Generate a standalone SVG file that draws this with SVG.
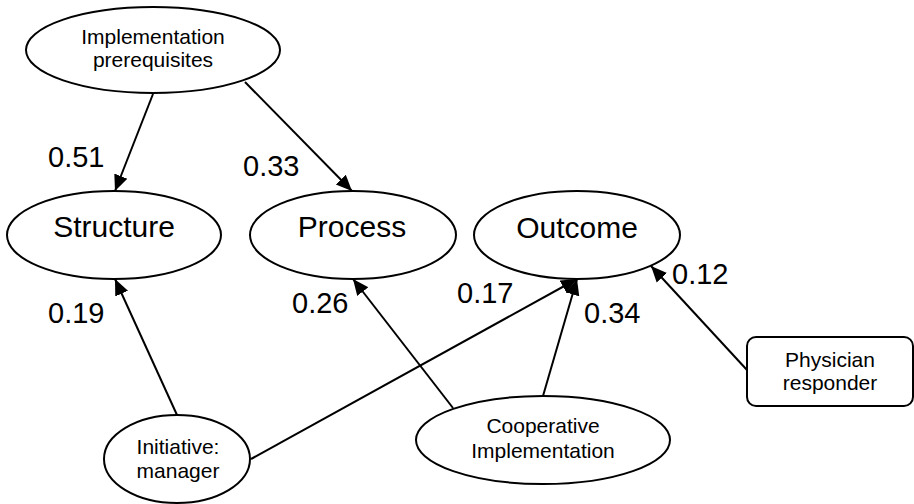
<svg xmlns="http://www.w3.org/2000/svg" width="914" height="504" viewBox="0 0 914 504">
<style>
.n{fill:#fff;stroke:#000;stroke-width:2}
.c{fill:none;stroke:#000;stroke-width:2}
text{font-family:"Liberation Sans",Arial,sans-serif;fill:#000}
.s{font-size:21px;text-anchor:middle}
.b{font-size:30px;text-anchor:middle}
.v{font-size:29px}
</style>
<defs>
<marker id="ah" markerUnits="userSpaceOnUse" markerWidth="18" markerHeight="16" refX="16" refY="7" orient="auto" viewBox="0 0 18 14">
<path d="M0,0 L16,7 L0,14 z" fill="#000"/>
</marker>
</defs>
<rect width="914" height="504" fill="#fff"/>
<g id="connectors">
<line class="c" x1="153" y1="94" x2="115" y2="191" marker-end="url(#ah)"/>
<line class="c" x1="245" y1="82" x2="352" y2="191" marker-end="url(#ah)"/>
<line class="c" x1="177" y1="415" x2="115" y2="279" marker-end="url(#ah)"/>
<line class="c" x1="453" y1="408" x2="353" y2="279" marker-end="url(#ah)"/>
<line class="c" x1="251" y1="459" x2="577" y2="279" marker-end="url(#ah)"/>
<line class="c" x1="543" y1="396" x2="577" y2="279" marker-end="url(#ah)"/>
<line class="c" x1="747" y1="370" x2="651" y2="266" marker-end="url(#ah)"/>
</g>
<g id="prereq">
<ellipse class="n" cx="153" cy="50" rx="127" ry="43"/>
<text class="s" x="153" y="44">Implementation</text>
<text class="s" x="153" y="67">prerequisites</text>
</g>
<g id="structure">
<ellipse class="n" cx="114" cy="235" rx="107" ry="44"/>
<text class="b" x="114" y="237">Structure</text>
</g>
<g id="process">
<ellipse class="n" cx="353" cy="235" rx="103" ry="44"/>
<text class="b" x="352" y="237">Process</text>
</g>
<g id="outcome">
<ellipse class="n" cx="577" cy="235" rx="103" ry="44"/>
<text class="b" x="577" y="238">Outcome</text>
</g>
<g id="initiative">
<ellipse class="n" cx="177" cy="459" rx="73" ry="44"/>
<text class="s" x="178" y="454">Initiative:</text>
<text class="s" x="178" y="478">manager</text>
</g>
<g id="cooperative">
<ellipse class="n" cx="543" cy="440" rx="127" ry="44"/>
<text class="s" x="543" y="433">Cooperative</text>
<text class="s" x="543" y="458">Implementation</text>
</g>
<g id="physician">
<rect class="n" x="747" y="337" width="166" height="69" rx="9"/>
<text class="s" x="830" y="367">Physician</text>
<text class="s" x="830" y="390">responder</text>
</g>
<g id="labels">
<text class="v" x="48" y="167">0.51</text>
<text class="v" x="243" y="176">0.33</text>
<text class="v" x="48" y="323">0.19</text>
<text class="v" x="292" y="313">0.26</text>
<text class="v" x="457" y="303">0.17</text>
<text class="v" x="584" y="323">0.34</text>
<text class="v" x="672" y="284">0.12</text>
</g>
</svg>
